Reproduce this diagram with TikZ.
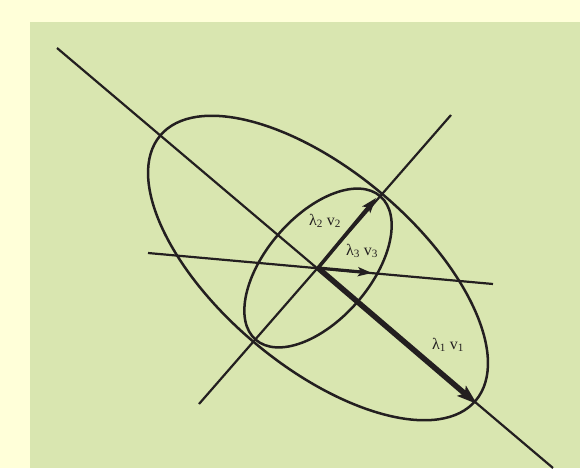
\documentclass[tikz,border=0pt]{standalone}
\usepackage{fontspec}
\setmainfont{Liberation Serif}
\usetikzlibrary{arrows.meta}
\definecolor{panelcream}{RGB}{255,255,217}
\definecolor{panelgreen}{RGB}{217,230,176}
\definecolor{ink}{RGB}{35,31,32}

\begin{document}
\begin{tikzpicture}[x=1pt, y=-1pt, line join=round,
        axis/.style={draw=ink, line width=2.2pt},
        shell/.style={draw=ink, line width=2.5pt},
        vec/.style={draw=ink, line width=#1},
        lab/.style={font=\fontsize{16}{18}\selectfont, text=ink, inner sep=1pt}]
    % background panel
    \useasboundingbox (0,0) rectangle (580,468);
    \fill[panelcream] (0,0) rectangle (580,468);
    \fill[panelgreen] (30,22) rectangle (580,468);
    % centre and principal axes
    \coordinate (c) at (318,268);
    \coordinate (a1s) at (57,48);   \coordinate (a1e) at (553,468);
    \coordinate (a2s) at (199,404); \coordinate (a2e) at (451,115);
    \coordinate (a3s) at (148,253); \coordinate (a3e) at (493,284);
    \draw[axis] (a1s) -- (a1e);
    \draw[axis] (a2s) -- (a2e);
    \draw[axis] (a3s) -- (a3e);
    % ellipses
    \draw[shell, rotate around={-40:(c)}] (c) ellipse [x radius=206, y radius=98];
    \draw[shell, rotate around={49:(c)}] (c) ellipse [x radius=95, y radius=52];
    % eigenvectors
    \coordinate (v1) at (477,404);
    \coordinate (v2) at (376,198);
    \coordinate (v3) at (372,273);
    \draw[vec=5.5pt, -{Stealth[length=20pt, width=13pt, inset=4pt]}] (c) -- (v1);
    \draw[vec=3.6pt, -{Stealth[length=15pt, width=10pt, inset=3pt]}] (c) -- (v2);
    \draw[vec=3.2pt, -{Stealth[length=14pt, width=9pt, inset=3pt]}] (c) -- (v3);
    \node[lab] (l1) at (448,345) {λ\textsubscript{1}~v\textsubscript{1}};
    \node[lab] (l2) at (325,221) {λ\textsubscript{2}~v\textsubscript{2}};
    \node[lab] (l3) at (362,251) {λ\textsubscript{3}~v\textsubscript{3}};
\end{tikzpicture}
\end{document}
